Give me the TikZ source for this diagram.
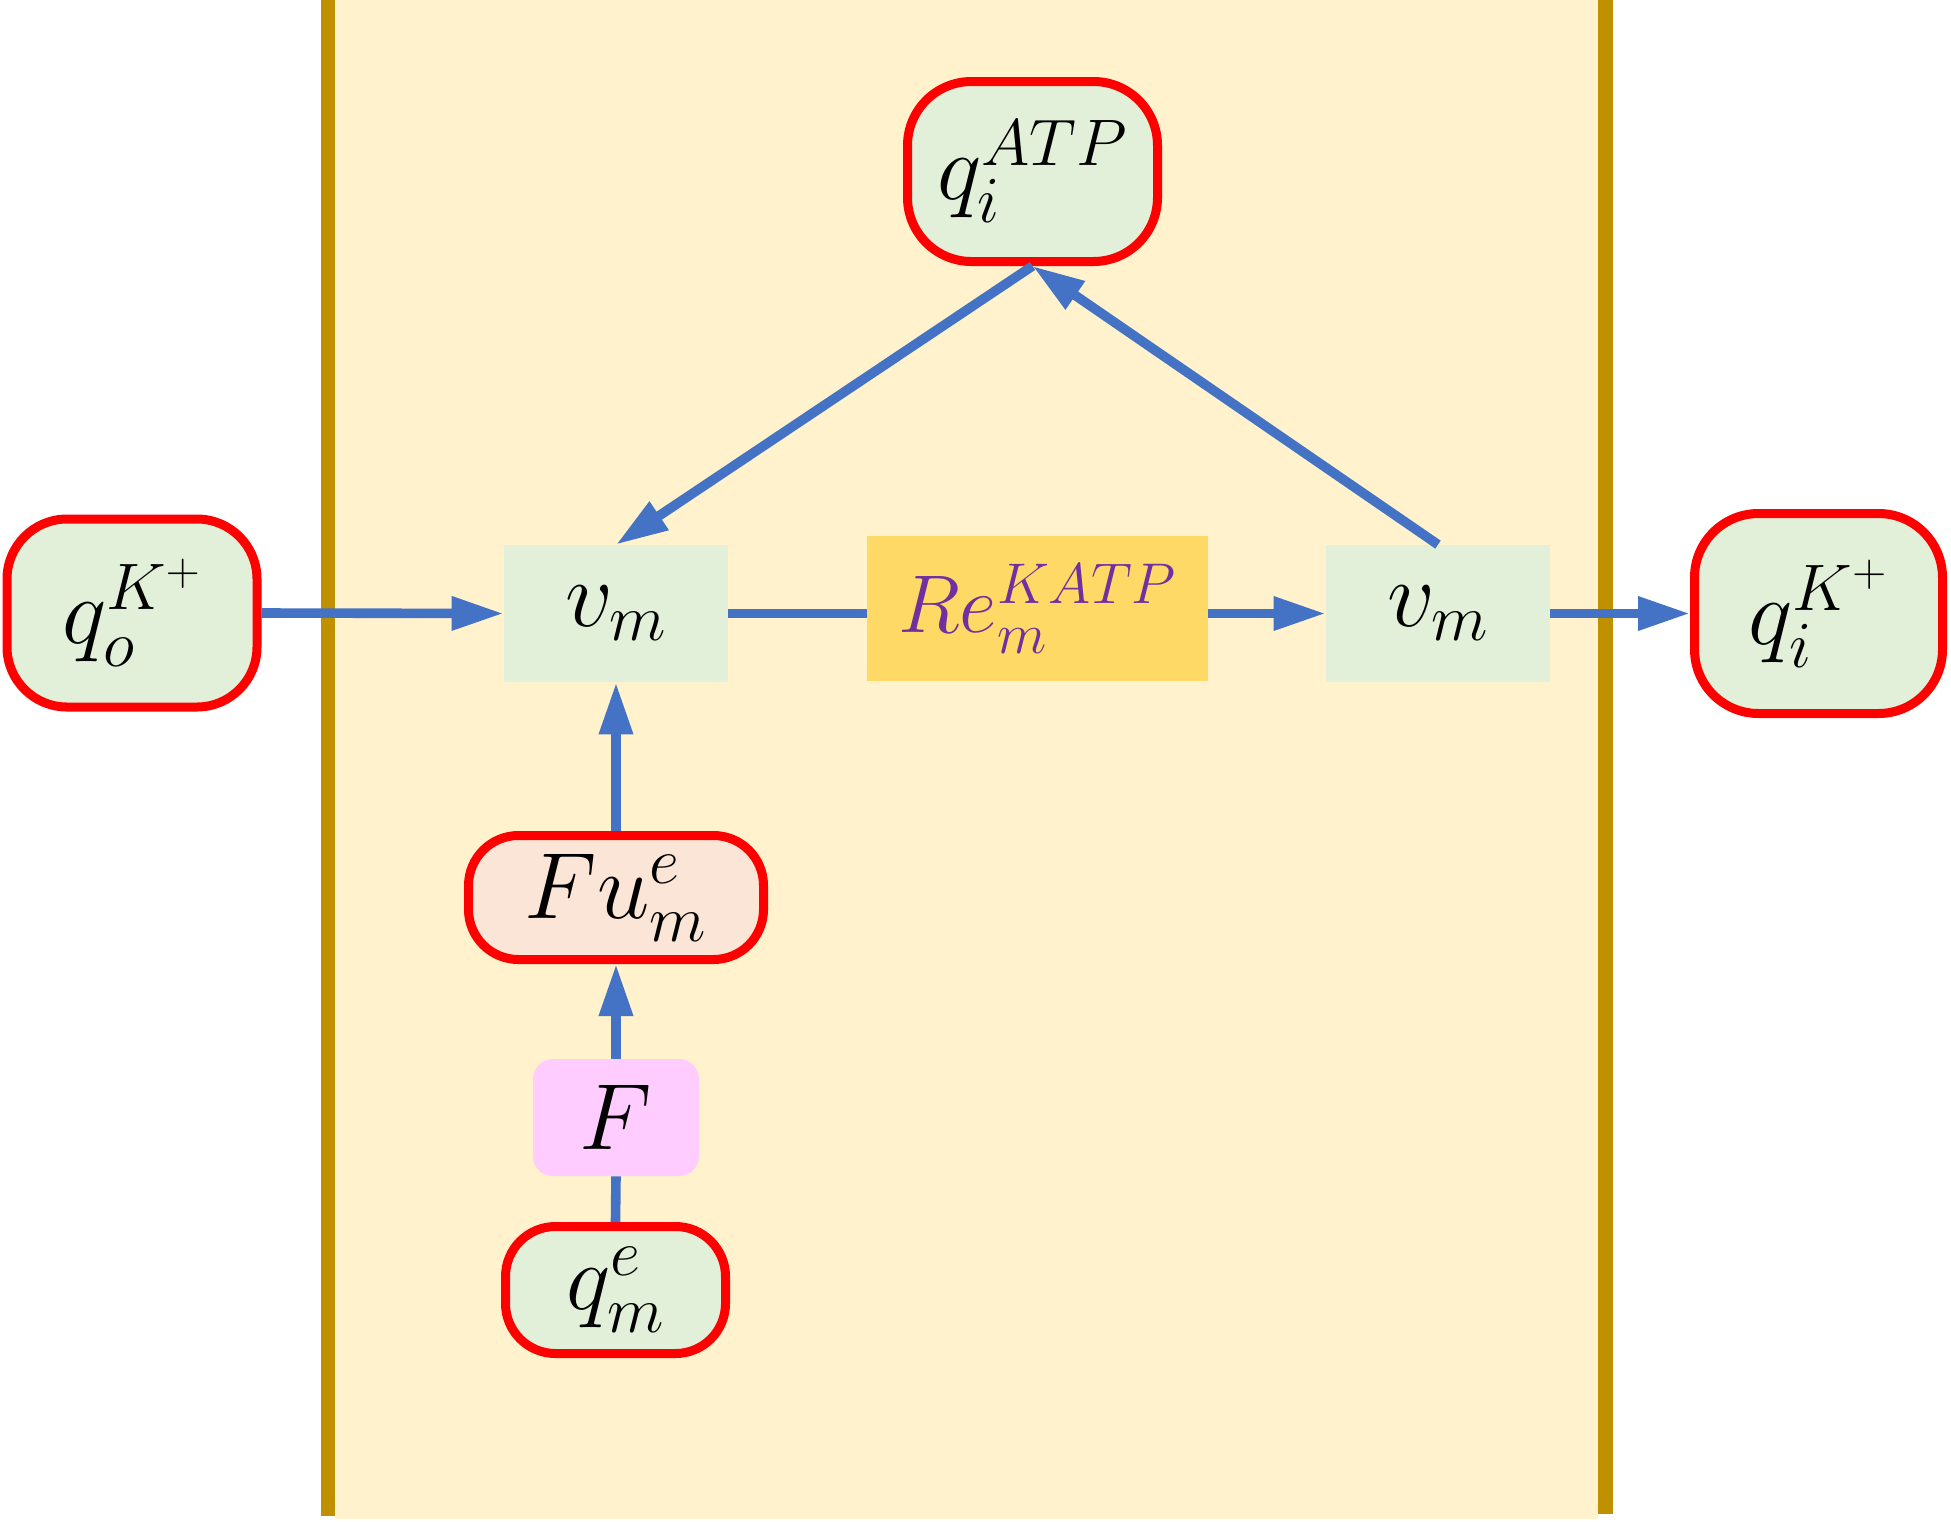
\documentclass[tikz,border=0pt]{standalone}
\usepackage{fix-cm}
\usetikzlibrary{arrows.meta}
\definecolor{cream}{HTML}{FFF2CC}
\definecolor{wallc}{HTML}{BF9000}
\definecolor{lgreen}{HTML}{E2F0D9}
\definecolor{lorange}{HTML}{FBE5D6}
\definecolor{lpink}{HTML}{FFCCFF}
\definecolor{goldc}{HTML}{FFD966}
\definecolor{purp}{HTML}{7030A0}
\definecolor{arrblue}{HTML}{4472C4}
\definecolor{pred}{HTML}{FF0000}
\begin{document}
\begin{tikzpicture}[x=0.5pt,y=-0.5pt,
  bigfont/.style={font=\fontsize{47}{56}\selectfont},
  pool/.style={bigfont, draw=pred, line width=4.5pt, fill=lgreen, inner sep=0pt},
  flux/.style={bigfont, fill=lgreen, inner sep=0pt, minimum width=112pt, minimum height=68.5pt},
  conn/.style={draw=arrblue, line width=4.8pt},
  arr/.style={conn, -{Triangle[length=26pt,width=16pt]}}
]
\useasboundingbox (0,0) rectangle (1951,1522);
% membrane background and walls
\fill[cream] (335,0) rectangle (1598,1519);
\fill[wallc] (321,0) rectangle (335,1516);
\fill[wallc] (1598,0) rectangle (1613,1514);

% nodes
\node[pool, rounded corners=30pt, minimum width=125pt, minimum height=94pt] (qo) at (132,613) {$q_o^{K^+}$};
\node[flux] (vm1) at (616,613.5) {$v_m$};
\node[font=\fontsize{41}{50}\selectfont, fill=goldc, inner sep=0pt, minimum width=170.5pt, minimum height=72.5pt, text=purp] (re) at (1037.5,608.5) {$Re_m^{KATP}$};
\node[flux] (vm2) at (1438,613.5) {$v_m$};
\node[pool, rounded corners=32pt, minimum width=124pt, minimum height=100pt] (qi) at (1818.5,613.5) {$q_i^{K^+}$};
\node[pool, rounded corners=32pt, minimum width=125pt, minimum height=90pt] (atp) at (1032.5,171.5) {$q_i^{ATP}$\hspace{10pt}};
\node[pool, fill=lorange, rounded corners=25pt, minimum width=147.5pt, minimum height=62pt] (fu) at (616,897.5) {$Fu_m^e$};
\node[bigfont, fill=lpink, inner sep=0pt, rounded corners=10pt, minimum width=83pt, minimum height=58.5pt] (F) at (616,1117.5) {$F$};
\node[pool, rounded corners=25pt, minimum width=110pt, minimum height=63.5pt] (qme) at (615.5,1290) {$q_m^e$};

% connectors
\draw[arr] (qo.east) -- (vm1.west);
\draw[conn] (vm1.east) -- (vm1.east -| re.west);
\draw[arr] (vm2.west -| re.east) -- (vm2.west);
\draw[arr] (vm2.east) -- (qi.west);
\draw[arr] (atp.south) -- (vm1.north);
\draw[arr] (vm2.north) -- (atp.south);
\draw[arr] (fu.north) -- (vm1.south);
\draw[arr] (F.north) -- (fu.south);
\draw[conn] (qme.north) -- (F.south);
\end{tikzpicture}
\end{document}
